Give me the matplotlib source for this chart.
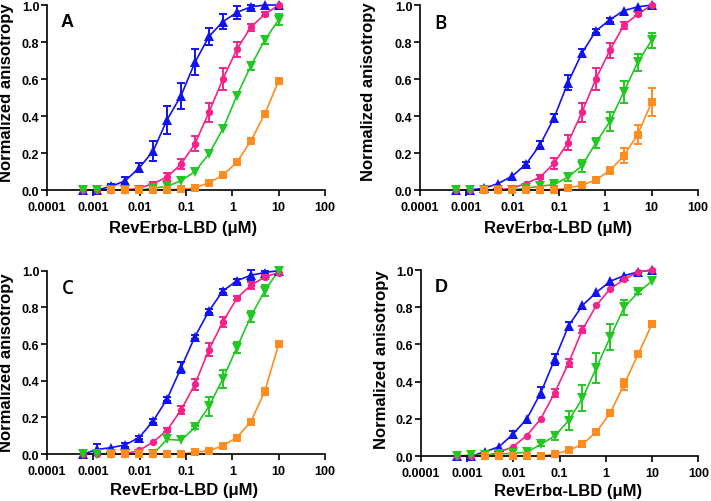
import matplotlib
matplotlib.use('Agg')
import matplotlib.pyplot as plt
import numpy as np

plt.rcParams['font.family'] = ['Liberation Sans', 'DejaVu Sans']

nan = np.nan

# RevErba-LBD concentration (uM), 2-fold dilution series
conc = [0.00061, 0.00122, 0.00244, 0.00488, 0.00977, 0.0195, 0.0391, 0.0781,
        0.156, 0.3125, 0.625, 1.25, 2.5, 5, 10]

# ---- panel A ----
blue_A = [0, 0, 0.02, 0.05, 0.12, 0.21, 0.38, 0.51, 0.69, 0.83, 0.91, 0.96, 0.99, 1.0, 1.0]
blue_A_err = [0, 0, 0.01, 0.02, 0.025, 0.055, 0.075, 0.07, 0.07, 0.047, 0.04, 0.034, 0.01, 0, 0]
pink_A = [0, 0, 0, 0, 0.01, 0.035, 0.07, 0.14, 0.25, 0.42, 0.60, 0.76, 0.88, 0.95, 1.0]
pink_A_err = [0, 0, 0, 0, 0, 0.01, 0.02, 0.025, 0.04, 0.05, 0.06, 0.04, 0.02, 0.01, 0]
green_A = [0, 0, 0, 0, 0, 0.01, 0.02, 0.05, 0.10, 0.195, 0.33, 0.51, 0.67, 0.81, 0.92]
green_A_err = [0, 0, 0, 0, 0, 0, 0, 0, 0, 0, 0, 0, 0.02, 0.02, 0.03]
orange_A = [nan, nan, 0, 0, 0, 0, 0, 0.005, 0.01, 0.04, 0.08, 0.15, 0.265, 0.41, 0.59]
orange_A_err = [0, 0, 0, 0, 0, 0, 0, 0, 0, 0, 0, 0, 0, 0, 0]

# ---- panel B ----
blue_B = [0, 0, 0.01, 0.035, 0.075, 0.14, 0.245, 0.39, 0.58, 0.74, 0.86, 0.92, 0.97, 0.99, 1.0]
blue_B_err = [0, 0, 0, 0, 0, 0.01, 0.02, 0.02, 0.04, 0.02, 0.01, 0.01, 0, 0, 0]
pink_B = [0, 0, 0, 0, 0.01, 0.035, 0.07, 0.145, 0.255, 0.42, 0.60, 0.755, 0.89, 0.95, 1.0]
pink_B_err = [0, 0, 0, 0, 0, 0, 0.01, 0.03, 0.04, 0.05, 0.06, 0.04, 0.02, 0.01, 0]
green_B = [0, 0, 0, 0, 0, 0.01, 0.02, 0.03, 0.07, 0.13, 0.255, 0.37, 0.53, 0.69, 0.81]
green_B_err = [0, 0, 0, 0, 0, 0, 0, 0.01, 0.02, 0.03, 0.027, 0.05, 0.058, 0.045, 0.04]
orange_B = [nan, nan, 0, 0, 0, 0, 0, 0, 0.012, 0.025, 0.055, 0.105, 0.185, 0.30, 0.475]
orange_B_err = [0, 0, 0, 0, 0, 0, 0, 0, 0, 0, 0.01, 0.02, 0.04, 0.05, 0.075]

# ---- panel C ----
blue_C = [0, 0.025, 0.035, 0.05, 0.09, 0.18, 0.30, 0.47, 0.64, 0.78, 0.89, 0.945, 0.975, 0.99, 1.0]
blue_C_err = [0, 0.03, 0, 0.01, 0.01, 0.01, 0.01, 0.03, 0.01, 0.01, 0.01, 0.01, 0.03, 0.01, 0]
pink_C = [0, 0, 0, 0, 0.02, 0.065, 0.13, 0.24, 0.38, 0.57, 0.72, 0.85, 0.92, 0.965, 0.99]
pink_C_err = [0, 0, 0, 0, 0, 0, 0.01, 0.02, 0.03, 0.035, 0.025, 0.01, 0.02, 0.01, 0]
green_C = [0, 0, 0, 0, 0, 0, 0.08, 0.075, 0.145, 0.26, 0.41, 0.58, 0.75, 0.89, 1.0]
green_C_err = [0, 0, 0, 0, 0, 0, 0, 0, 0.01, 0.05, 0.05, 0.03, 0.03, 0.03, 0]
orange_C = [nan, nan, 0, 0, 0, 0, 0, 0, 0.01, 0.018, 0.045, 0.09, 0.176, 0.34, 0.60]
orange_C_err = [0, 0, 0, 0, 0, 0, 0, 0, 0, 0, 0, 0, 0, 0.02, 0]

# ---- panel D ----
blue_D = [0, 0, 0.023, 0.05, 0.117, 0.20, 0.34, 0.52, 0.70, 0.81, 0.88, 0.94, 0.97, 0.99, 1.0]
blue_D_err = [0, 0, 0, 0, 0.02, 0, 0.03, 0.03, 0.02, 0, 0, 0, 0, 0, 0]
pink_D = [0, 0, 0, 0.02, 0.05, 0.11, 0.20, 0.34, 0.50, 0.68, 0.81, 0.90, 0.95, 0.99, 1.0]
pink_D_err = [0, 0, 0, 0, 0, 0, 0, 0.02, 0.02, 0.02, 0, 0, 0, 0, 0]
green_D = [0, 0.005, 0.005, 0.01, 0.015, 0.02, 0.063, 0.108, 0.19, 0.31, 0.475, 0.64, 0.80, 0.88, 0.94]
green_D_err = [0, 0, 0, 0, 0, 0, 0.01, 0.02, 0.05, 0.07, 0.08, 0.07, 0.04, 0.01, 0]
orange_D = [nan, nan, 0, 0, 0, 0, 0, 0.01, 0.03, 0.063, 0.13, 0.233, 0.386, 0.548, 0.71]
orange_D_err = [0, 0, 0, 0, 0, 0, 0, 0, 0, 0, 0, 0, 0.03, 0, 0]

xticks = [0.0001, 0.001, 0.01, 0.1, 1, 10, 100]
xtick_labels = ['0.0001', '0.001', '0.01', '0.1', '1', '10', '100']
yticks = [0.0, 0.2, 0.4, 0.6, 0.8, 1.0]

colors = {'blue': '#1212f0', 'pink': '#f5228a', 'green': '#22c822', 'orange': '#ff8c1e'}
markers = {'blue': '^', 'pink': 'o', 'green': 'v', 'orange': 's'}
msizes = {'blue': 6.5, 'pink': 5.3, 'green': 6.5, 'orange': 5.5}

panels = [
    ('A', [0.0661, 0.6195, 0.391, 0.3685], (blue_A, blue_A_err), (pink_A, pink_A_err),
     (green_A, green_A_err), (orange_A, orange_A_err), (0.49, -0.205), (-0.144, 0.53), 'bold'),
    ('B', [0.5907, 0.6195, 0.391, 0.3685], (blue_B, blue_B_err), (pink_B, pink_B_err),
     (green_B, green_B_err), (orange_B, orange_B_err), (0.497, -0.205), (-0.187, 0.535), 'semibold'),
    ('C', [0.0661, 0.0936, 0.391, 0.3652], (blue_C, blue_C_err), (pink_C, pink_C_err),
     (green_C, green_C_err), (orange_C, orange_C_err), (0.493, -0.196), (-0.144, 0.505), 'semibold'),
    ('D', [0.5921, 0.0896, 0.390, 0.3705], (blue_D, blue_D_err), (pink_D, pink_D_err),
     (green_D, green_D_err), (orange_D, orange_D_err), (0.53, -0.185), (-0.144, 0.524), 'bold'),
]

fig = plt.figure(figsize=(7.11, 5.02), dpi=100)

for letter, rect, b, p, g, o, xl_pos, yl_pos, weight in panels:
    ax = fig.add_axes(rect)
    for name, (vals, err) in zip(['blue', 'pink', 'green', 'orange'], [b, p, g, o]):
        c = colors[name]
        x = np.array(conc)
        y = np.array(vals, dtype=float)
        e = np.array(err, dtype=float)
        ax.plot(x, y, '-', color=c, lw=1.2, clip_on=False, zorder=2)
        ax.plot(x, y, markers[name], color=c, ms=msizes[name], mew=0,
                clip_on=False, zorder=3)
        sel = e > 0
        if sel.any():
            ax.errorbar(x[sel], y[sel], yerr=e[sel], fmt='none', ecolor=c,
                        elinewidth=1.4, capsize=3, capthick=1.4,
                        clip_on=False, zorder=3)

    ax.set_xscale('log')
    ax.set_xlim(0.0001, 100)
    ax.set_ylim(0, 1.0)
    ax.set_xticks(xticks)
    ax.set_xticklabels(xtick_labels)
    ax.xaxis.set_minor_locator(matplotlib.ticker.NullLocator())
    ax.set_yticks(yticks)
    ax.yaxis.set_major_formatter('{x:.1f}')
    for sp in ['top', 'right']:
        ax.spines[sp].set_visible(False)
    for sp in ['left', 'bottom']:
        ax.spines[sp].set_linewidth(1.2)
    ax.tick_params(axis='x', length=4, width=1.2, pad=4, labelsize=9)
    ax.tick_params(axis='y', length=4.5, width=1.2, pad=1, labelsize=9)
    for lab in ax.get_xticklabels() + ax.get_yticklabels():
        lab.set_fontweight('bold')

    ax.set_xlabel('RevErbα-LBD (μM)', fontsize=12, fontweight='bold', va='center')
    ax.xaxis.set_label_coords(*xl_pos)
    ax.set_ylabel('Normalized anisotropy', fontsize=12, fontweight='bold', va='center')
    ax.yaxis.set_label_coords(*yl_pos)

    if weight == 'bold':
        ax.text(0.072, 0.91, letter, transform=ax.transAxes, fontsize=13,
                fontweight='bold', ha='center', va='center')
    else:
        ax.text(0.075, 0.905, letter, transform=ax.transAxes, fontsize=13.5,
                fontweight='semibold', family=['Open Sans', 'DejaVu Sans'],
                ha='center', va='center')

fig.savefig('out.png', dpi=100)
